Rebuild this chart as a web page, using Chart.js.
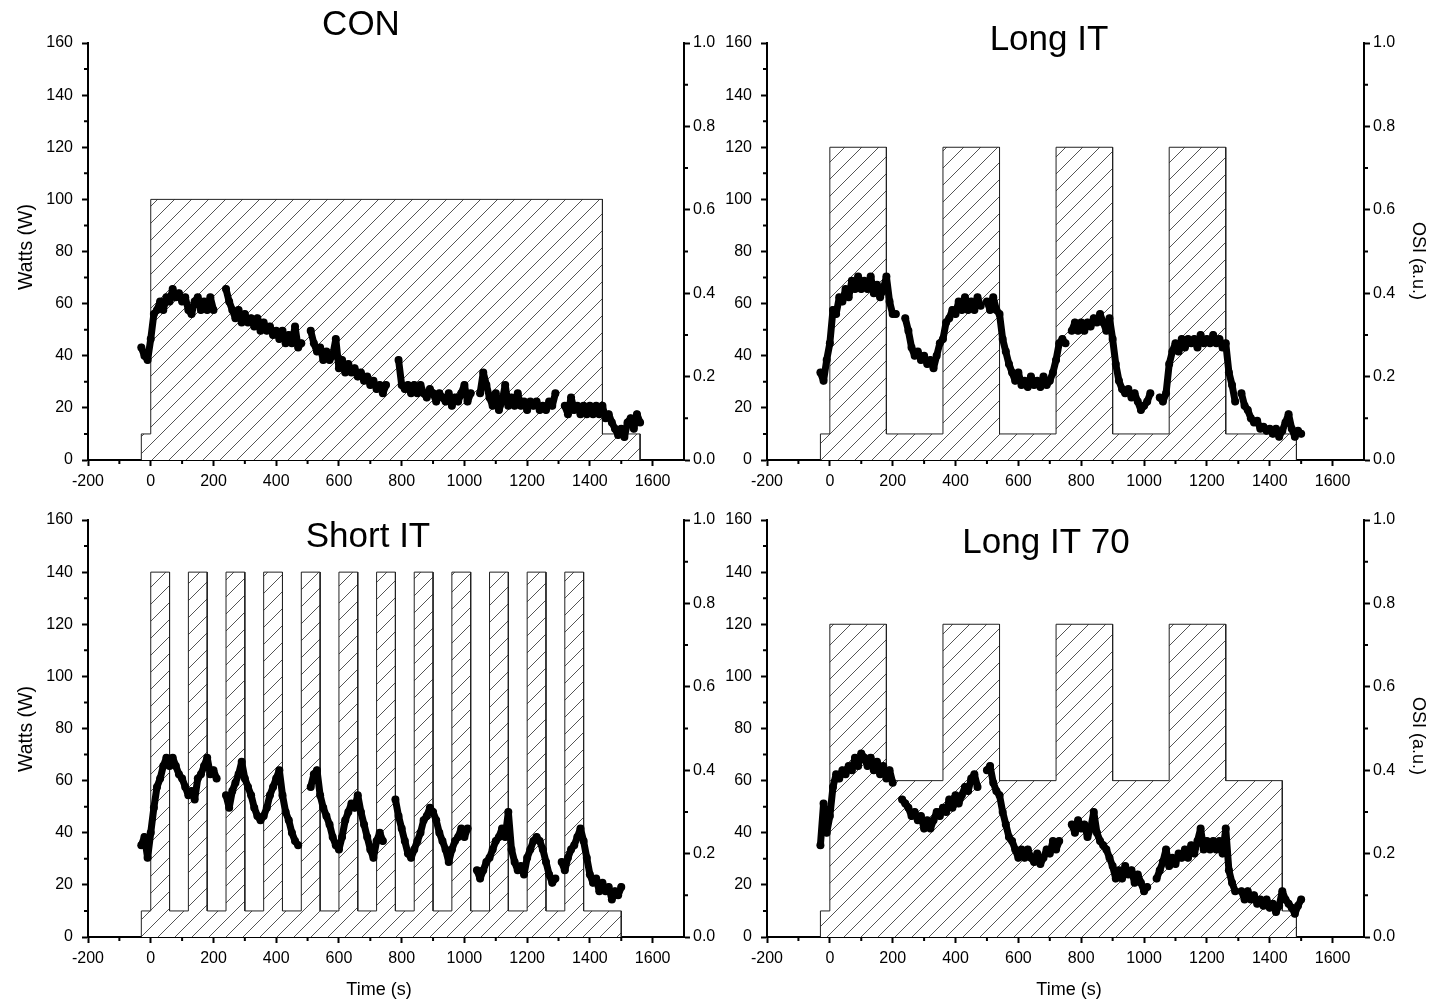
<!DOCTYPE html>
<html>
<head>
<meta charset="utf-8">
<script src="https://cdn.jsdelivr.net/npm/chart.js@4.4.1/dist/chart.umd.min.js"></script>
<style>
  body { margin: 0; background: #fff; width: 1434px; height: 1004px; position: relative; overflow: hidden; }
  canvas { position: absolute; }
</style>
</head>
<body>
<canvas id="con" width="720" height="500" style="left:0;top:0"></canvas>
<canvas id="longIT" width="714" height="500" style="left:720px;top:0"></canvas>
<canvas id="shortIT" width="720" height="504" style="left:0;top:500px"></canvas>
<canvas id="longIT70" width="714" height="504" style="left:720px;top:500px"></canvas>
<script>
// axis ticks
const xTicks = [-200, 0, 200, 400, 600, 800, 1000, 1200, 1400, 1600];
const xMinor = [-100, 100, 300, 500, 700, 900, 1100, 1300, 1500];
const wattTicks = [0, 20, 40, 60, 80, 100, 120, 140, 160];
const wattMinor = [10, 30, 50, 70, 90, 110, 130, 150];
const osiTicks = [0, 0.2, 0.4, 0.6, 0.8, 1.0];
const osiMinor = [0.1, 0.3, 0.5, 0.7, 0.9];

// power protocol: change times (s) and the level (W) held in each interval
const conStepT = [-30, 0, 1440, 1560];
const conStepW = [10, 100, 10];
const longStepT = [-30, 0, 180, 360, 540, 720, 900, 1080, 1260, 1485];
const longStepW = [10, 120, 10, 120, 10, 120, 10, 120, 10];
const shortStepT = [-30, 0, 60, 120, 180, 240, 300, 360, 420, 480, 540, 600, 660, 720, 780, 840, 900, 960, 1020, 1080, 1140, 1200, 1260, 1320, 1380, 1500];
const shortStepW = [10, 140, 10, 140, 10, 140, 10, 140, 10, 140, 10, 140, 10, 140, 10, 140, 10, 140, 10, 140, 10, 140, 10, 140, 10];
const long70StepT = [-30, 0, 180, 360, 540, 720, 900, 1080, 1260, 1440, 1485];
const long70StepW = [10, 120, 60, 120, 60, 120, 60, 120, 60, 10];

// OSI samples, every 10 s starting at t = -30 s (null = no sample)
const T0 = -30, DT = 10;
const conOSI = [
  .27,.25,.24,
  .29,.35,.36,.38,.36,.39,.38,.41,.39,.40,
  .38,.39,.36,.35,.38,.39,.36,.38,.36,.39,
  .36,null,null,null,.41,.38,.36,.34,.36,.33,
  .35,.33,.34,.32,.34,.31,.33,.31,.32,.30,
  .31,.29,.31,.28,.30,.28,.32,.27,.28,null,
  null,.31,.28,.26,.27,.24,.26,.24,.25,.29,
  .22,.24,.21,.23,.21,.22,.20,.21,.19,.20,
  .18,.19,.17,.18,.16,.18,null,null,null,.24,
  .18,.17,.18,.16,.18,.16,.18,.16,.15,.17,
  .16,.14,.16,.15,.14,.16,.13,.15,.14,.16,
  .18,.14,.16,null,null,.16,.21,.18,.15,.13,
  .16,.12,.14,.18,.13,.15,.13,.16,.13,.14,
  .12,.14,.13,.14,.12,.13,.12,.14,.13,.16,
  null,null,.13,.11,.15,.12,.13,.11,.13,.11,
  .13,.11,.13,.11,.13,.10,.11,.09,.075,.06,
  .075,.055,.09,.10,.075,.11,.09
];
const longOSI = [
  .21,.19,.24,
  .28,.36,.35,.39,.38,.41,.39,.43,.41,.44,
  .41,.43,.41,.44,.40,.42,.39,.41,.44,.38,
  .35,.35,null,null,.34,.31,.27,.25,.26,.24,
  .25,.23,.24,.22,.25,.28,.29,.33,.34,.36,
  .35,.38,.36,.39,.36,.38,.36,.39,.37,null,
  .38,.36,.39,.36,.35,.29,.26,.23,.21,.19,
  .21,.18,.19,.175,.20,.18,.19,.175,.20,.18,
  .19,.21,.24,.28,.29,.28,null,.31,.33,.31,
  .33,.31,.33,.32,.34,.33,.35,.33,.31,.34,
  .29,.23,.19,.17,.16,.17,.15,.16,.14,.12,
  .13,.14,.16,null,null,.15,.14,.16,.23,.26,
  .28,.26,.29,.27,.29,.28,.29,.27,.30,.28,
  .29,.28,.30,.28,.29,.27,.28,.21,.18,.14,
  null,.16,.13,.12,.10,.09,.094,.075,.08,.07,
  .075,.063,.075,.056,.07,.09,.11,.075,.056,.07,
  .063
];
const shortOSI = [
  .22,.24,.19,
  .25,.31,.36,.38,.41,.43,.41,.43,.41,.39,
  .38,.36,.34,.35,.33,.38,.39,.41,.43,.39,
  .40,.38,null,null,.34,.31,.35,.37,.39,.42,
  .38,.36,.34,.31,.29,.28,.29,.31,.34,.36,
  .38,.40,.34,.30,.28,.25,.23,.22,null,null,
  null,.36,.39,.40,.34,.31,.29,.27,.24,.22,
  .21,.24,.28,.30,.32,.31,.34,.30,.27,.24,
  .21,.19,.23,.25,.23,null,null,null,.33,.29,
  .26,.23,.20,.19,.21,.23,.25,.28,.29,.31,
  .30,.28,.25,.23,.21,.18,.21,.23,.24,.26,
  .24,.26,null,null,.16,.14,.16,.18,.19,.21,
  .23,.24,.26,.24,.30,.21,.18,.16,.17,.15,
  .19,.21,.23,.24,.23,.21,.18,.15,.13,.14,
  null,.18,.16,.19,.21,.22,.24,.26,.23,.19,
  .15,.13,.14,.11,.13,.11,.12,.09,.11,.10,
  .12
];
const long70OSI = [
  .22,.32,.25,
  .29,.36,.39,.38,.40,.39,.41,.40,.43,.41,
  .44,.43,.41,.43,.40,.42,.39,.41,.38,.40,
  .37,null,null,.33,.32,.31,.29,.30,.28,.29,
  .26,.28,.26,.28,.30,.29,.31,.30,.33,.31,
  .34,.32,.34,.36,.35,.38,.39,.36,null,null,
  .40,.41,.37,.35,.34,.30,.27,.24,.23,.21,
  .19,.21,.19,.21,.19,.18,.20,.175,.19,.21,
  .20,.23,.21,.23,null,null,null,.27,.25,.28,
  .26,.27,.24,.26,.30,.25,.23,.22,.21,.19,
  .17,.14,.16,.14,.17,.15,.16,.13,.15,.13,
  .11,.12,null,null,.14,.16,.18,.21,.17,.19,
  .175,.20,.19,.21,.19,.22,.20,.23,.26,.21,
  .23,.21,.23,.21,.23,.20,.26,.16,.13,.11,
  null,.11,.09,.11,.09,.10,.08,.09,.075,.09,
  .07,.08,.06,.075,.11,.09,.08,.07,.056,.075,
  .09
];

const FONT = "'Liberation Sans', Arial, sans-serif";

// outline of the protocol: corners from change times and levels
function stepPoints(times, levels) {
  const pts = [{ x: times[0], y: 0 }];
  for (let i = 0; i < levels.length; i++) {
    if (i > 0) pts.push({ x: times[i], y: levels[i - 1] });
    pts.push({ x: times[i], y: levels[i] });
  }
  const end = times[times.length - 1];
  pts.push({ x: end, y: levels[levels.length - 1] });
  pts.push({ x: end, y: 0 });
  return pts;
}

// keep the nulls so the trace breaks where there is no sample
function dotPoints(vals) {
  return vals.map((v, i) => ({ x: T0 + i * DT, y: v }));
}

function hatch(ctx) {
  const s = 17;
  const tile = document.createElement('canvas');
  tile.width = tile.height = s;
  const g = tile.getContext('2d');
  g.fillStyle = '#fff';
  g.fillRect(0, 0, s, s);
  g.strokeStyle = '#555';
  g.lineWidth = 1;
  g.beginPath();
  g.moveTo(-2, s + 2);
  g.lineTo(s + 2, -2);
  g.stroke();
  return ctx.createPattern(tile, 'repeat');
}

// minor tick marks, placed with the chart's own scales
const minorTicks = {
  id: 'minorTicks',
  afterDraw(chart) {
    const c = chart.ctx, a = chart.chartArea, sc = chart.scales;
    c.save();
    c.strokeStyle = '#000';
    c.lineWidth = 2;
    c.beginPath();
    xMinor.forEach(v => { const p = sc.x.getPixelForValue(v); c.moveTo(p, a.bottom); c.lineTo(p, a.bottom + 4); });
    wattMinor.forEach(v => { const p = sc.y.getPixelForValue(v); c.moveTo(a.left, p); c.lineTo(a.left - 4, p); });
    osiMinor.forEach(v => { const p = sc.y2.getPixelForValue(v); c.moveTo(a.right, p); c.lineTo(a.right + 4, p); });
    c.stroke();
    c.restore();
  }
};

// panel title and axis titles at their own spots
const panelText = {
  id: 'panelText',
  afterDatasetsDraw(chart, args, o) {
    const c = chart.ctx;
    c.save();
    c.fillStyle = '#000';
    c.textAlign = 'center';
    c.font = '35px ' + FONT;
    c.textBaseline = 'alphabetic';
    c.fillText(o.title.text, o.title.x, o.title.y);
    c.textBaseline = 'middle';
    (o.labels || []).forEach(l => {
      c.save();
      c.font = l.size + 'px ' + FONT;
      c.translate(l.x, l.y);
      c.rotate(l.rot);
      c.fillText(l.text, 0, 0);
      c.restore();
    });
    c.restore();
  }
};

function makePanel(id, cfg) {
  const el = document.getElementById(id);
  const W = el.width, H = el.height;
  const tickFont = { family: FONT, size: 16 };
  const axisGrid = { drawOnChartArea: false, drawTicks: true, tickLength: 6, tickWidth: 2, tickColor: '#000' };
  const axisBorder = { display: true, color: '#000', width: 2 };

  new Chart(el, {
    type: 'scatter',
    data: {
      datasets: [
        {
          type: 'scatter',
          data: dotPoints(cfg.osi),
          yAxisID: 'y2',
          order: 0,
          showLine: true,
          spanGaps: false,
          borderColor: '#000',
          borderWidth: 7,
          borderJoinStyle: 'round',
          borderCapStyle: 'round',
          pointRadius: 4,
          pointBackgroundColor: '#000',
          pointBorderWidth: 0
        },
        {
          type: 'line',
          data: stepPoints(cfg.stepT, cfg.stepW),
          yAxisID: 'y',
          order: 1,
          fill: 'origin',
          backgroundColor: hatch(el.getContext('2d')),
          borderColor: '#222',
          borderWidth: 1,
          pointRadius: 0,
          tension: 0
        }
      ]
    },
    options: {
      responsive: false,
      animation: false,
      devicePixelRatio: 1,
      events: [],
      layout: { padding: { top: cfg.area.top, left: 0, right: 0, bottom: 0 } },
      plugins: {
        legend: { display: false },
        tooltip: { enabled: false },
        panelText: { title: cfg.title, labels: cfg.labels }
      },
      scales: {
        x: {
          type: 'linear',
          min: -200, max: 1700,
          afterFit: s => { s.height = H - cfg.area.bottom; },
          afterBuildTicks: s => { s.ticks = xTicks.map(v => ({ value: v })); },
          ticks: { font: tickFont, color: '#000', padding: 6, maxRotation: 0, callback: v => String(v) },
          grid: axisGrid,
          border: axisBorder
        },
        y: {
          type: 'linear',
          position: 'left',
          min: 0, max: 160,
          afterFit: s => { s.width = cfg.area.left; },
          afterBuildTicks: s => { s.ticks = wattTicks.map(v => ({ value: v })); },
          ticks: { font: tickFont, color: '#000', padding: 9, callback: v => String(v) },
          grid: axisGrid,
          border: axisBorder
        },
        y2: {
          type: 'linear',
          position: 'right',
          min: 0, max: 1,
          afterFit: s => { s.width = W - cfg.area.right; },
          afterBuildTicks: s => { s.ticks = osiTicks.map(v => ({ value: v })); },
          ticks: { font: tickFont, color: '#000', padding: 3, callback: v => v.toFixed(1) },
          grid: axisGrid,
          border: axisBorder
        }
      }
    },
    plugins: [minorTicks, panelText]
  });
}

const UP = -Math.PI / 2, DOWN = Math.PI / 2;

makePanel('con', {
  osi: conOSI, stepT: conStepT, stepW: conStepW,
  area: { left: 88, right: 684, top: 43, bottom: 460 },
  title: { text: 'CON', x: 361, y: 35 },
  labels: [{ text: 'Watts (W)', x: 27, y: 247, rot: UP, size: 19.5 }]
});
makePanel('longIT', {
  osi: longOSI, stepT: longStepT, stepW: longStepW,
  area: { left: 47, right: 644, top: 43, bottom: 460 },
  title: { text: 'Long IT', x: 329, y: 50 },
  labels: [{ text: 'OSI (a.u.)', x: 698, y: 261, rot: DOWN, size: 18 }]
});
makePanel('shortIT', {
  osi: shortOSI, stepT: shortStepT, stepW: shortStepW,
  area: { left: 88, right: 684, top: 20, bottom: 437 },
  title: { text: 'Short IT', x: 368, y: 47 },
  labels: [
    { text: 'Watts (W)', x: 27, y: 229, rot: UP, size: 19.5 },
    { text: 'Time (s)', x: 379, y: 490, rot: 0, size: 18 }
  ]
});
makePanel('longIT70', {
  osi: long70OSI, stepT: long70StepT, stepW: long70StepW,
  area: { left: 47, right: 644, top: 20, bottom: 437 },
  title: { text: 'Long IT 70', x: 326, y: 53 },
  labels: [
    { text: 'OSI (a.u.)', x: 698, y: 236, rot: DOWN, size: 18 },
    { text: 'Time (s)', x: 349, y: 490, rot: 0, size: 18 }
  ]
});
</script>
</body>
</html>
